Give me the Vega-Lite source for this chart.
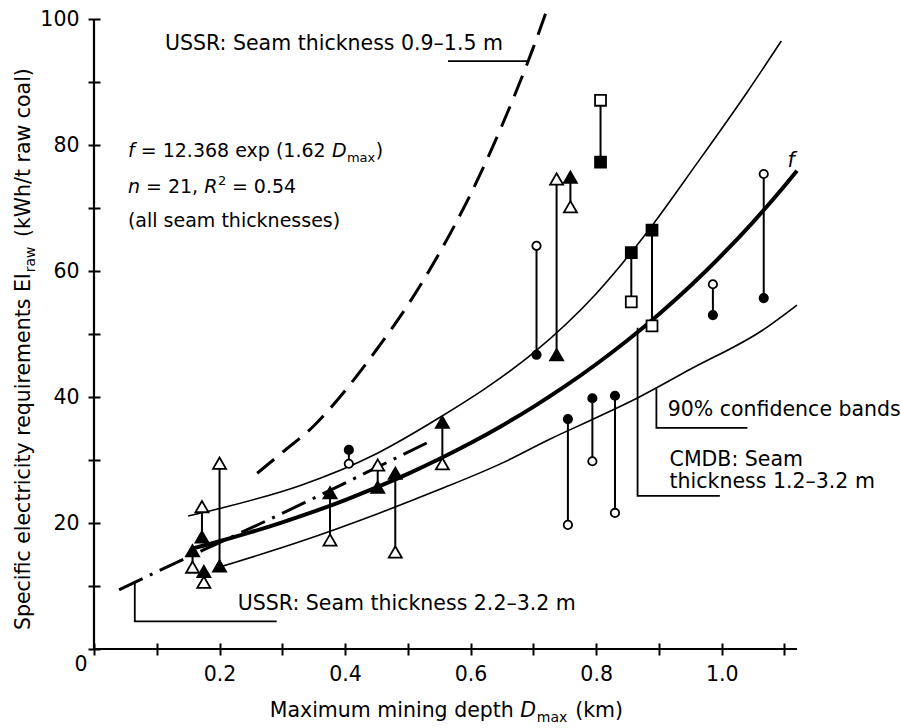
{
  "$schema": "https://vega.github.io/schema/vega-lite/v6.json",
  "autosize": {"type": "none"},
  "width": 703,
  "height": 630,
  "padding": {"left": 94, "top": 19, "right": 104, "bottom": 79},
  "background": "white",
  "config": {
    "view": {"stroke": null},
    "axis": {
      "grid": false,
      "labelFont": "DejaVu Sans",
      "labelFontSize": 20.5,
      "labelColor": "black",
      "tickColor": "black",
      "tickWidth": 2,
      "tickSize": 12,
      "domain": false,
      "offset": -6
    },
    "text": {"font": "DejaVu Sans", "fontSize": 20.5, "color": "black", "align": "left", "baseline": "alphabetic"}
  },
  "datasets": {
    "curves": [
      {"curve": "f", "depth": 0.155, "kwh": 15.9},
      {"curve": "f", "depth": 0.2, "kwh": 17.1},
      {"curve": "f", "depth": 0.25, "kwh": 18.54},
      {"curve": "f", "depth": 0.3, "kwh": 20.11},
      {"curve": "f", "depth": 0.35, "kwh": 21.8},
      {"curve": "f", "depth": 0.4, "kwh": 23.64},
      {"curve": "f", "depth": 0.45, "kwh": 25.64},
      {"curve": "f", "depth": 0.5, "kwh": 27.8},
      {"curve": "f", "depth": 0.55, "kwh": 30.15},
      {"curve": "f", "depth": 0.6, "kwh": 32.69},
      {"curve": "f", "depth": 0.65, "kwh": 35.45},
      {"curve": "f", "depth": 0.7, "kwh": 38.44},
      {"curve": "f", "depth": 0.75, "kwh": 41.68},
      {"curve": "f", "depth": 0.8, "kwh": 45.2},
      {"curve": "f", "depth": 0.85, "kwh": 49.01},
      {"curve": "f", "depth": 0.9, "kwh": 53.15},
      {"curve": "f", "depth": 0.95, "kwh": 57.63},
      {"curve": "f", "depth": 1.0, "kwh": 62.5},
      {"curve": "f", "depth": 1.05, "kwh": 67.77},
      {"curve": "f", "depth": 1.1, "kwh": 73.49},
      {"curve": "f", "depth": 1.12, "kwh": 75.91},
      {"curve": "upper", "depth": 0.15, "kwh": 21.1},
      {"curve": "upper", "depth": 0.2, "kwh": 22.3},
      {"curve": "upper", "depth": 0.33, "kwh": 26.0},
      {"curve": "upper", "depth": 0.45, "kwh": 31.0},
      {"curve": "upper", "depth": 0.55, "kwh": 36.7},
      {"curve": "upper", "depth": 0.63, "kwh": 41.8},
      {"curve": "upper", "depth": 0.7, "kwh": 47.0},
      {"curve": "upper", "depth": 0.8, "kwh": 56.4},
      {"curve": "upper", "depth": 0.88, "kwh": 66.0},
      {"curve": "upper", "depth": 0.96, "kwh": 77.0},
      {"curve": "upper", "depth": 1.04, "kwh": 88.3},
      {"curve": "upper", "depth": 1.095, "kwh": 96.5},
      {"curve": "lower", "depth": 0.2, "kwh": 13.0},
      {"curve": "lower", "depth": 0.33, "kwh": 17.1},
      {"curve": "lower", "depth": 0.45, "kwh": 21.4},
      {"curve": "lower", "depth": 0.55, "kwh": 25.3},
      {"curve": "lower", "depth": 0.65, "kwh": 29.5},
      {"curve": "lower", "depth": 0.726, "kwh": 33.3},
      {"curve": "lower", "depth": 0.8, "kwh": 36.7},
      {"curve": "lower", "depth": 0.865, "kwh": 39.8},
      {"curve": "lower", "depth": 0.95, "kwh": 44.4},
      {"curve": "lower", "depth": 1.065, "kwh": 50.6},
      {"curve": "lower", "depth": 1.12, "kwh": 54.6},
      {"curve": "ussr_thin", "depth": 0.26, "kwh": 27.9},
      {"curve": "ussr_thin", "depth": 0.3, "kwh": 31.2},
      {"curve": "ussr_thin", "depth": 0.35, "kwh": 35.4},
      {"curve": "ussr_thin", "depth": 0.4, "kwh": 41.0},
      {"curve": "ussr_thin", "depth": 0.45, "kwh": 47.5},
      {"curve": "ussr_thin", "depth": 0.5, "kwh": 54.6},
      {"curve": "ussr_thin", "depth": 0.55, "kwh": 62.8},
      {"curve": "ussr_thin", "depth": 0.6, "kwh": 72.2},
      {"curve": "ussr_thin", "depth": 0.65, "kwh": 83.1},
      {"curve": "ussr_thin", "depth": 0.7, "kwh": 95.5},
      {"curve": "ussr_thin", "depth": 0.72, "kwh": 101.0},
      {"curve": "ussr_thick", "depth": 0.04, "kwh": 9.4},
      {"curve": "ussr_thick", "depth": 0.12, "kwh": 13.2},
      {"curve": "ussr_thick", "depth": 0.2, "kwh": 16.9},
      {"curve": "ussr_thick", "depth": 0.28, "kwh": 20.6},
      {"curve": "ussr_thick", "depth": 0.36, "kwh": 24.4},
      {"curve": "ussr_thick", "depth": 0.44, "kwh": 28.3},
      {"curve": "ussr_thick", "depth": 0.53, "kwh": 32.7}
    ],
    "pairs": [
      {"shape": "triangle", "depth": 0.157, "hollow": 13.0, "solid": 15.6},
      {"shape": "triangle", "depth": 0.172, "hollow": 22.6, "solid": 17.8},
      {"shape": "triangle", "depth": 0.175, "hollow": 10.6, "solid": 12.3},
      {"shape": "triangle", "depth": 0.2, "hollow": 29.5, "solid": 13.2},
      {"shape": "triangle", "depth": 0.376, "hollow": 17.3, "solid": 24.8},
      {"shape": "triangle", "depth": 0.452, "hollow": 29.2, "solid": 25.7},
      {"shape": "triangle", "depth": 0.48, "hollow": 15.4, "solid": 27.9},
      {"shape": "triangle", "depth": 0.555, "hollow": 29.4, "solid": 36.0},
      {"shape": "triangle", "depth": 0.737, "hollow": 74.6, "solid": 46.7},
      {"shape": "triangle", "depth": 0.759, "hollow": 70.2, "solid": 74.9},
      {"shape": "circle", "depth": 0.406, "hollow": 29.4, "solid": 31.6},
      {"shape": "circle", "depth": 0.705, "hollow": 64.0, "solid": 46.7},
      {"shape": "circle", "depth": 0.755, "hollow": 19.7, "solid": 36.5},
      {"shape": "circle", "depth": 0.794, "hollow": 29.8, "solid": 39.8},
      {"shape": "circle", "depth": 0.83, "hollow": 21.6, "solid": 40.2},
      {"shape": "circle", "depth": 0.986, "hollow": 57.9, "solid": 53.0},
      {"shape": "circle", "depth": 1.067, "hollow": 75.4, "solid": 55.7},
      {"shape": "square", "depth": 0.807, "hollow": 87.1, "solid": 77.3},
      {"shape": "square", "depth": 0.856, "hollow": 55.1, "solid": 62.9},
      {"shape": "square", "depth": 0.889, "hollow": 51.3, "solid": 66.5}
    ],
    "leaders": [
      {"id": "thin", "seq": 1, "depth": 0.564, "kwh": 93.3},
      {"id": "thin", "seq": 2, "depth": 0.69, "kwh": 93.3},
      {"id": "thick", "seq": 1, "depth": 0.065, "kwh": 10.6},
      {"id": "thick", "seq": 2, "depth": 0.065, "kwh": 4.4},
      {"id": "thick", "seq": 3, "depth": 0.291, "kwh": 4.4},
      {"id": "bands", "seq": 1, "depth": 0.896, "kwh": 41.4},
      {"id": "bands", "seq": 2, "depth": 0.896, "kwh": 35.1},
      {"id": "bands", "seq": 3, "depth": 1.041, "kwh": 35.1},
      {"id": "cmdb", "seq": 1, "depth": 0.866, "kwh": 51.0},
      {"id": "cmdb", "seq": 2, "depth": 0.866, "kwh": 24.3},
      {"id": "cmdb", "seq": 3, "depth": 0.997, "kwh": 24.3}
    ],
    "notes": [
      {"role": "plain", "depth": 0.113, "kwh": 95.1, "text": "USSR: Seam thickness 0.9–1.5 m"},
      {"role": "plain", "depth": 0.229, "kwh": 6.2, "text": "USSR: Seam thickness 2.2–3.2 m"},
      {"role": "plain", "depth": 0.914, "kwh": 37.0, "text": "90% confidence bands"},
      {"role": "plain", "depth": 0.917, "kwh": 29.0, "text": "CMDB: Seam"},
      {"role": "plain", "depth": 0.917, "kwh": 25.5, "text": "thickness 1.2–3.2 m"},
      {"role": "plain", "depth": 0.28, "kwh": -10.8, "text": "Maximum mining depth"},
      {"role": "plain", "depth": 0.7667, "kwh": -10.8, "text": "(km)"},
      {"role": "ital", "depth": 0.679, "kwh": -10.8, "text": "D"},
      {"role": "ital", "depth": 1.105, "kwh": 76.5, "text": "f"},
      {"role": "sub", "depth": 0.7054, "kwh": -10.8, "text": "max"},
      {"role": "fplain", "depth": 0.0744, "kwh": 78.1, "text": "= 12.368 exp (1.62"},
      {"role": "fplain", "depth": 0.4487, "kwh": 78.1, "text": ")"},
      {"role": "fplain", "depth": 0.0828, "kwh": 72.4, "text": "= 21,"},
      {"role": "fplain", "depth": 0.2197, "kwh": 72.4, "text": "= 0.54"},
      {"role": "fplain", "depth": 0.0541, "kwh": 67.0, "text": "(all seam thicknesses)"},
      {"role": "fital", "depth": 0.0541, "kwh": 78.1, "text": "f"},
      {"role": "fital", "depth": 0.379, "kwh": 78.1, "text": "D"},
      {"role": "fital", "depth": 0.0541, "kwh": 72.4, "text": "n"},
      {"role": "fital", "depth": 0.1755, "kwh": 72.4, "text": "R"},
      {"role": "fsub", "depth": 0.4029, "kwh": 78.1, "text": "max"},
      {"role": "fsup", "depth": 0.1975, "kwh": 72.4, "text": "2"},
      {"role": "ytitle", "depth": -0.1019, "kwh": 3.0, "text": "Specific electricity requirements EI"},
      {"role": "ysub", "depth": -0.1019, "kwh": 59.8, "text": "raw"},
      {"role": "ytitleEnd", "depth": -0.1019, "kwh": 92.2, "text": "(kWh/t raw coal)"}
    ]
  },
  "layer": [
    {
      "data": {"name": "curves"},
      "transform": [{"filter": "datum.curve === 'f'"}],
      "mark": {"type": "line", "color": "black", "strokeWidth": 4, "interpolate": "monotone"},
      "encoding": {
        "x": {
          "field": "depth", "type": "quantitative",
          "scale": {"domain": [0, 1.12], "nice": false, "zero": false},
          "axis": {
            "title": null,
            "values": [0, 0.1, 0.2, 0.3, 0.4, 0.5, 0.6, 0.7, 0.8, 0.9, 1.0, 1.1],
            "format": ".1f",
            "labelExpr": "datum.value === 0 ? '0' : (indexof([0.2, 0.4, 0.6, 0.8, 1], datum.value) >= 0 ? datum.label : '')",
            "labelAlign": {"condition": {"test": "datum.value === 0", "value": "right"}, "value": "center"},
            "labelOffset": {"condition": {"test": "datum.value === 0", "value": -7}, "value": 0},
            "labelPadding": {"condition": {"test": "datum.value === 0", "value": -1}, "value": 9}
          }
        },
        "y": {
          "field": "kwh", "type": "quantitative",
          "scale": {"domain": [0, 100], "nice": false, "zero": false},
          "axis": {
            "title": null,
            "values": [0, 10, 20, 30, 40, 50, 60, 70, 80, 90, 100],
            "labelExpr": "datum.value > 0 && datum.value % 20 === 0 ? datum.label : ''",
            "labelPadding": 9
          }
        }
      }
    },
    {
      "data": {"name": "curves"},
      "transform": [{"filter": "datum.curve === 'upper' || datum.curve === 'lower'"}],
      "mark": {"type": "line", "color": "black", "strokeWidth": 1.6, "interpolate": "monotone"},
      "encoding": {
        "x": {"field": "depth", "type": "quantitative", "title": null},
        "y": {"field": "kwh", "type": "quantitative", "title": null},
        "detail": {"field": "curve"}
      }
    },
    {
      "data": {"name": "curves"},
      "transform": [{"filter": "datum.curve === 'ussr_thin'"}],
      "mark": {"type": "line", "color": "black", "strokeWidth": 3, "interpolate": "monotone", "strokeDash": [22, 11]},
      "encoding": {
        "x": {"field": "depth", "type": "quantitative", "title": null},
        "y": {"field": "kwh", "type": "quantitative", "title": null}
      }
    },
    {
      "data": {"name": "curves"},
      "transform": [{"filter": "datum.curve === 'ussr_thick'"}],
      "mark": {"type": "line", "color": "black", "strokeWidth": 3, "interpolate": "monotone", "strokeDash": [26, 8, 3, 8]},
      "encoding": {
        "x": {"field": "depth", "type": "quantitative", "title": null},
        "y": {"field": "kwh", "type": "quantitative", "title": null}
      }
    },
    {
      "data": {"values": [{}]},
      "mark": {"type": "rule", "color": "black", "strokeWidth": 2.2},
      "encoding": {"x": {"datum": 0, "type": "quantitative", "title": null}}
    },
    {
      "data": {"values": [{}]},
      "mark": {"type": "rule", "color": "black", "strokeWidth": 2.2},
      "encoding": {"y": {"datum": 0, "type": "quantitative", "title": null}}
    },
    {
      "data": {"name": "leaders"},
      "mark": {"type": "line", "color": "black", "strokeWidth": 1.8},
      "encoding": {
        "x": {"field": "depth", "type": "quantitative", "title": null},
        "y": {"field": "kwh", "type": "quantitative", "title": null},
        "detail": {"field": "id"},
        "order": {"field": "seq"}
      }
    },
    {
      "data": {"name": "pairs"},
      "mark": {"type": "rule", "color": "black", "strokeWidth": 2},
      "encoding": {
        "x": {"field": "depth", "type": "quantitative", "title": null},
        "y": {"field": "hollow", "type": "quantitative", "title": null},
        "y2": {"field": "solid"}
      }
    },
    {
      "data": {"name": "pairs"},
      "transform": [{"fold": ["hollow", "solid"], "as": ["style", "kwh"]}],
      "mark": {"type": "point", "filled": true, "stroke": "black", "strokeWidth": 1.8, "opacity": 1},
      "encoding": {
        "x": {"field": "depth", "type": "quantitative", "title": null},
        "y": {"field": "kwh", "type": "quantitative", "title": null},
        "shape": {"field": "shape", "type": "nominal", "scale": {"domain": ["circle", "square", "triangle"], "range": ["circle", "square", "triangle-up"]}, "legend": null},
        "size": {"field": "shape", "type": "nominal", "scale": {"domain": ["circle", "square", "triangle"], "range": [70, 170, 150]}, "legend": null},
        "fill": {"field": "style", "type": "nominal", "scale": {"domain": ["hollow", "solid"], "range": ["white", "black"]}, "legend": null}
      }
    },
    {
      "data": {"name": "notes"},
      "transform": [{"filter": "datum.role === 'plain'"}],
      "mark": {"type": "text"},
      "encoding": {
        "x": {"field": "depth", "type": "quantitative", "title": null},
        "y": {"field": "kwh", "type": "quantitative", "title": null},
        "text": {"field": "text"}
      }
    },
    {
      "data": {"name": "notes"},
      "transform": [{"filter": "datum.role === 'ital'"}],
      "mark": {"type": "text", "fontStyle": "italic"},
      "encoding": {
        "x": {"field": "depth", "type": "quantitative", "title": null},
        "y": {"field": "kwh", "type": "quantitative", "title": null},
        "text": {"field": "text"}
      }
    },
    {
      "data": {"name": "notes"},
      "transform": [{"filter": "datum.role === 'sub'"}],
      "mark": {"type": "text", "fontSize": 14, "dy": 5},
      "encoding": {
        "x": {"field": "depth", "type": "quantitative", "title": null},
        "y": {"field": "kwh", "type": "quantitative", "title": null},
        "text": {"field": "text"}
      }
    },
    {
      "data": {"name": "notes"},
      "transform": [{"filter": "datum.role === 'fplain'"}],
      "mark": {"type": "text", "fontSize": 19},
      "encoding": {
        "x": {"field": "depth", "type": "quantitative", "title": null},
        "y": {"field": "kwh", "type": "quantitative", "title": null},
        "text": {"field": "text"}
      }
    },
    {
      "data": {"name": "notes"},
      "transform": [{"filter": "datum.role === 'fital'"}],
      "mark": {"type": "text", "fontSize": 19, "fontStyle": "italic"},
      "encoding": {
        "x": {"field": "depth", "type": "quantitative", "title": null},
        "y": {"field": "kwh", "type": "quantitative", "title": null},
        "text": {"field": "text"}
      }
    },
    {
      "data": {"name": "notes"},
      "transform": [{"filter": "datum.role === 'fsub'"}],
      "mark": {"type": "text", "fontSize": 13, "dy": 5},
      "encoding": {
        "x": {"field": "depth", "type": "quantitative", "title": null},
        "y": {"field": "kwh", "type": "quantitative", "title": null},
        "text": {"field": "text"}
      }
    },
    {
      "data": {"name": "notes"},
      "transform": [{"filter": "datum.role === 'fsup'"}],
      "mark": {"type": "text", "fontSize": 13, "dy": -8},
      "encoding": {
        "x": {"field": "depth", "type": "quantitative", "title": null},
        "y": {"field": "kwh", "type": "quantitative", "title": null},
        "text": {"field": "text"}
      }
    },
    {
      "data": {"name": "notes"},
      "transform": [{"filter": "datum.role === 'ytitle'"}],
      "mark": {"type": "text", "angle": 270},
      "encoding": {
        "x": {"field": "depth", "type": "quantitative", "title": null},
        "y": {"field": "kwh", "type": "quantitative", "title": null},
        "text": {"field": "text"}
      }
    },
    {
      "data": {"name": "notes"},
      "transform": [{"filter": "datum.role === 'ysub'"}],
      "mark": {"type": "text", "angle": 270, "fontSize": 14, "dy": 5},
      "encoding": {
        "x": {"field": "depth", "type": "quantitative", "title": null},
        "y": {"field": "kwh", "type": "quantitative", "title": null},
        "text": {"field": "text"}
      }
    },
    {
      "data": {"name": "notes"},
      "transform": [{"filter": "datum.role === 'ytitleEnd'"}],
      "mark": {"type": "text", "angle": 270, "align": "right"},
      "encoding": {
        "x": {"field": "depth", "type": "quantitative", "title": null},
        "y": {"field": "kwh", "type": "quantitative", "title": null},
        "text": {"field": "text"}
      }
    }
  ]
}
